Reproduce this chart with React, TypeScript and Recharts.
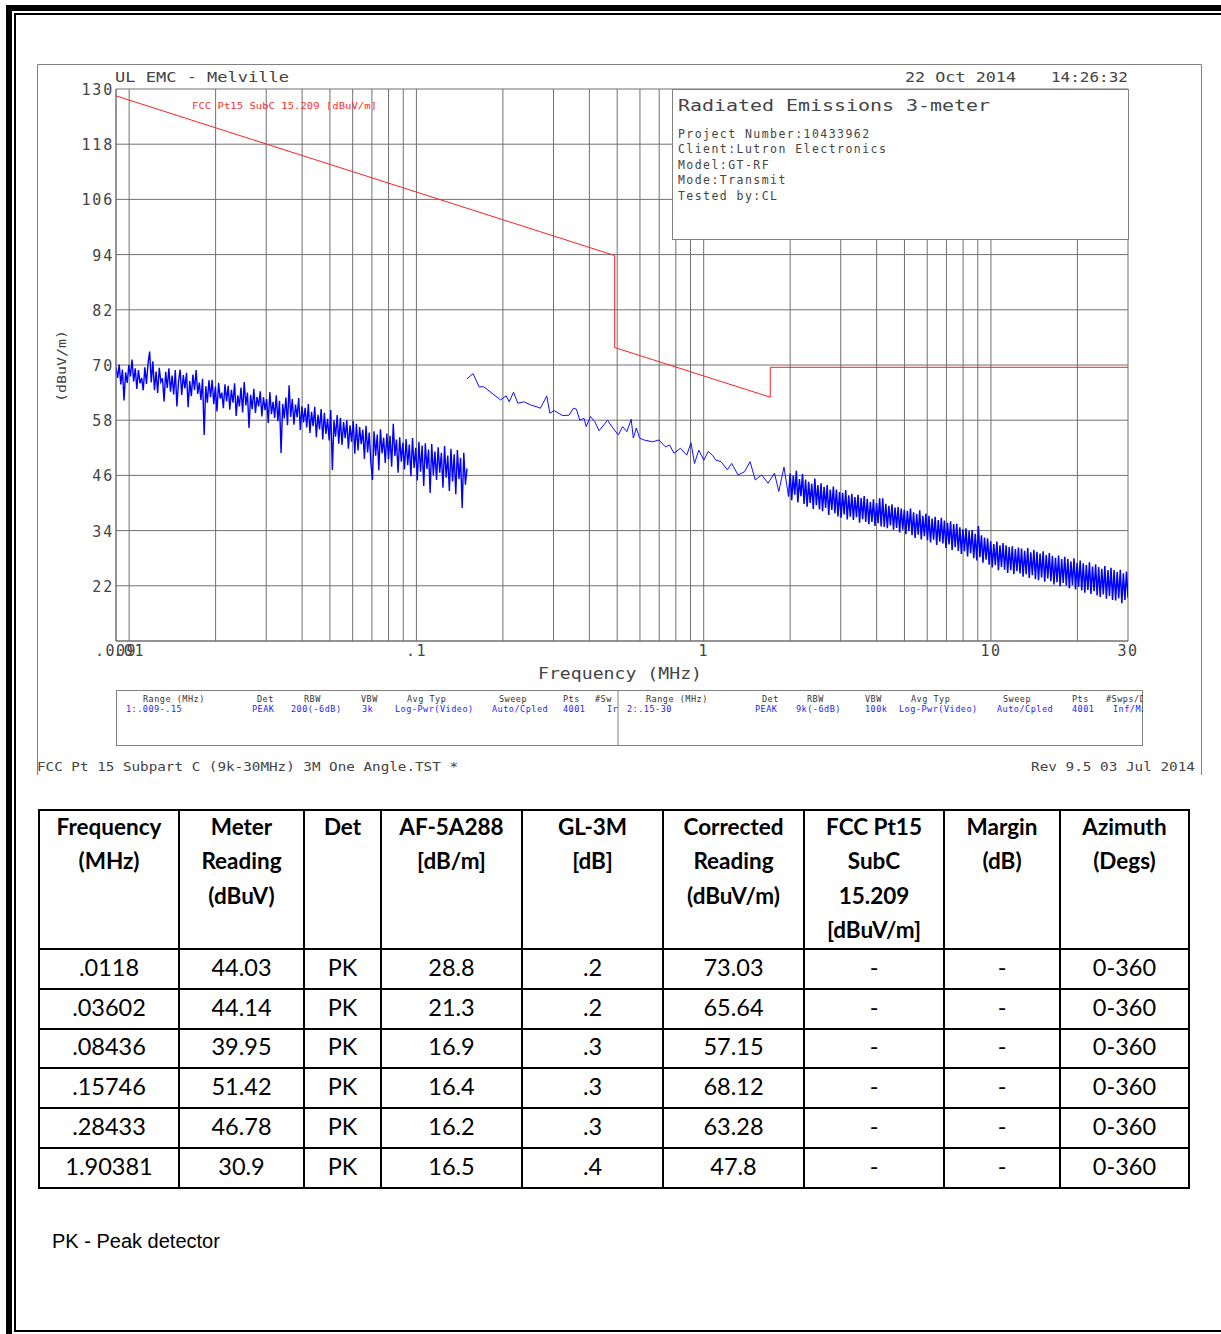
import React from 'react';
import { ComposedChart, Line, XAxis, YAxis, CartesianGrid } from 'recharts';

// ---------- chart data ----------
const xGridFreqs = [0.009, 0.01, 0.02, 0.03, 0.04, 0.05, 0.06, 0.07, 0.08, 0.09, 0.1, 0.2, 0.3, 0.4, 0.5, 0.6, 0.7, 0.8, 0.9, 1, 2, 3, 4, 5, 6, 7, 8, 9, 10, 20, 30];
const xLabelFreqs = [0.009, 0.01, 0.1, 1, 10, 30];
const xLabelTexts = ['.009', '.01', '.1', '1', '10', '30'];
const yTicks = [10, 22, 34, 46, 58, 70, 82, 94, 106, 118, 130];
const yLabelTexts = ['', '22', '34', '46', '58', '70', '82', '94', '106', '118', '130'];

// FCC Pt15 SubC 15.209 limit [dBuV/m]
const limitFreqs = [0.009, 0.49, 0.49, 1.705, 1.705, 30];
const limitValues = [128.5, 93.8, 73.8, 63.0, 69.5, 69.5];

// Range 1: .009 - .15 MHz (sampled log-evenly across the range)
const range1Start = 0.009;
const range1Stop = 0.15;
const range1Values = [
  69.5, 67.2, 70.1, 65.8, 69.0, 62.3, 68.4, 66.1, 70.0, 67.5,
  71.2, 66.4, 69.3, 64.8, 68.9, 66.0, 67.2, 64.5, 69.5, 65.9,
  70.4, 72.9, 66.2, 70.8, 64.5, 68.6, 63.9, 69.4, 66.3, 67.1,
  62.1, 68.5, 65.0, 69.3, 64.2, 67.7, 63.6, 68.9, 61.0, 66.4,
  69.0, 63.5, 67.8, 64.9, 68.3, 60.8, 66.5, 63.2, 67.9, 64.6,
  68.9, 63.7, 66.2, 62.4, 67.0, 54.8, 65.4, 61.8, 66.7, 63.0,
  66.8, 61.5, 65.3, 59.9, 66.1, 62.7, 64.0, 60.6, 65.8, 62.1,
  65.5, 60.3, 64.6, 61.8, 66.0, 58.9, 63.4, 61.0, 65.1, 59.7,
  66.3, 61.2, 64.0, 56.3, 63.5, 60.4, 64.8, 59.6, 63.1, 61.0,
  64.3, 58.8, 63.0, 60.2, 62.6, 57.4, 64.1, 59.3, 62.0, 58.5,
  63.4, 57.8, 62.2, 50.9, 61.5, 58.4, 62.9, 56.9, 65.6, 58.7,
  62.6, 57.0, 61.4, 58.6, 62.8, 55.9, 61.0, 57.5, 60.7, 56.4,
  61.5, 55.2, 59.8, 56.7, 60.9, 54.3, 59.2, 56.0, 60.4, 53.8,
  59.6, 55.0, 58.3, 53.6, 60.2, 47.2, 58.0, 54.4, 59.1, 52.9,
  58.5, 52.6, 57.6, 54.1, 58.0, 51.8, 56.9, 53.3, 57.8, 50.7,
  57.2, 51.4, 56.5, 52.8, 55.9, 49.6, 56.8, 51.0, 55.3, 48.9,
  45.0, 55.6, 50.3, 54.9, 47.1, 56.0, 50.8, 54.2, 48.7, 55.1,
  49.5, 54.6, 47.9, 57.2, 50.2, 53.8, 46.6, 54.3, 49.0, 53.1,
  47.3, 53.9, 48.2, 52.7, 45.8, 54.1, 47.6, 52.0, 44.9, 53.3,
  46.8, 52.5, 43.7, 53.0, 47.4, 51.6, 42.2, 52.8, 46.1, 51.2,
  45.0, 52.1, 46.6, 50.9, 43.3, 52.4, 45.5, 50.3, 42.6, 51.8,
  44.7, 50.6, 41.9, 51.5, 45.2, 49.8, 38.9, 50.9, 44.0, 47.5,
];

// Range 2 (low part): .15 - ~2 MHz, read point by point
const range2aFreqs = [0.15, 0.15746, 0.1655, 0.1713, 0.1964, 0.2054, 0.2104, 0.2178, 0.2254, 0.2372, 0.2497, 0.263, 0.2702, 0.28433, 0.2915, 0.3014, 0.3229, 0.34, 0.352, 0.3605, 0.3704, 0.3835, 0.3899, 0.4036, 0.4178, 0.4324, 0.4628, 0.4791, 0.5044, 0.5222, 0.5403, 0.5594, 0.5689, 0.5827, 0.5987, 0.6197, 0.6639, 0.699, 0.7357, 0.7614, 0.788, 0.8296, 0.8733, 0.9032, 0.929, 0.9614, 1.0016, 1.0368, 1.073, 1.1027, 1.1487, 1.209, 1.2514, 1.3173, 1.3878, 1.4505, 1.5118, 1.5917, 1.6755, 1.764, 1.8259, 1.90381, 1.9748];
const range2aValues = [67.0, 68.12, 65.2, 65.3, 62.4, 63.3, 62.0, 64.1, 61.7, 62.0, 61.3, 60.9, 60.6, 63.28, 59.5, 60.1, 59.0, 59.1, 60.6, 60.4, 58.0, 58.4, 56.6, 58.8, 57.7, 55.7, 58.0, 56.6, 54.8, 56.6, 55.5, 58.2, 54.1, 56.3, 54.1, 53.7, 53.3, 53.7, 52.2, 52.6, 50.8, 51.9, 50.4, 53.1, 48.6, 51.5, 49.3, 51.2, 50.4, 49.3, 49.0, 47.2, 48.6, 46.1, 46.8, 49.0, 45.0, 46.1, 44.3, 46.5, 42.5, 47.8, 41.4];

// Range 2 (high part): 2 - 30 MHz (sampled log-evenly across the range)
const range2bStart = 2.0;
const range2bStop = 30;
const range2bValues = [
  46.4, 40.6, 45.9, 41.8, 47.0, 40.1, 45.2, 41.5, 46.3, 39.8,
  45.1, 39.2, 44.6, 40.0, 44.2, 38.7, 45.3, 39.5, 43.9, 38.6,
  44.3, 38.2, 43.5, 38.9, 43.9, 37.4, 42.9, 38.5, 43.6, 37.8,
  42.9, 37.1, 42.4, 36.8, 42.2, 37.5, 42.8, 36.4, 41.7, 37.0,
  42.0, 36.3, 41.3, 36.9, 41.8, 35.7, 41.1, 36.5, 41.5, 35.9,
  40.9, 35.4, 40.2, 35.9, 40.8, 35.0, 40.0, 35.6, 41.0, 34.9,
  41.0, 34.8, 39.8, 34.5, 39.4, 35.1, 39.7, 34.2, 39.0, 34.6,
  39.1, 33.6, 38.8, 34.2, 38.5, 33.2, 38.3, 33.9, 38.8, 33.0,
  38.0, 32.4, 37.6, 33.1, 38.4, 32.1, 37.2, 32.8, 37.7, 31.9,
  37.2, 31.4, 36.6, 32.0, 37.0, 30.9, 36.3, 31.6, 36.8, 31.2,
  36.2, 30.2, 35.7, 31.0, 36.0, 29.8, 35.4, 30.4, 35.5, 29.6,
  34.7, 28.9, 34.3, 29.5, 34.5, 28.4, 33.9, 29.1, 34.1, 28.0,
  33.3, 27.5, 35.0, 28.2, 33.0, 27.0, 32.5, 27.7, 32.3, 26.6,
  31.7, 26.0, 31.1, 26.5, 31.6, 25.4, 30.8, 26.1, 31.3, 25.5,
  30.8, 24.8, 30.4, 25.4, 30.6, 24.5, 30.0, 25.2, 30.3, 24.7,
  30.1, 24.0, 29.6, 24.5, 30.2, 23.7, 29.3, 24.3, 29.8, 23.5,
  29.4, 23.2, 29.0, 23.8, 29.5, 22.9, 28.7, 23.6, 29.1, 23.0,
  28.5, 22.3, 28.1, 22.8, 28.6, 21.9, 27.8, 22.6, 28.3, 22.1,
  27.8, 21.5, 27.3, 22.2, 28.0, 21.2, 27.0, 21.8, 27.5, 21.0,
  26.9, 20.5, 26.5, 21.1, 27.1, 20.2, 26.2, 20.8, 26.7, 19.9,
  26.1, 19.6, 25.7, 20.1, 26.3, 19.2, 25.4, 19.8, 25.9, 18.9,
  25.4, 18.8, 25.0, 19.3, 25.5, 18.2, 24.7, 18.9, 25.1, 19.4,
];

// ---------- text data ----------
const infoLines = ['Project Number:10433962', 'Client:Lutron Electronics', 'Model:GT-RF', 'Mode:Transmit', 'Tested by:CL'];
const legendHeaders1 = ['Range (MHz)', 'Det', 'RBW', 'VBW', 'Avg Typ', 'Sweep', 'Pts', '#Sw'];
const legendValues1 = ['1:.009-.15', 'PEAK', '200(-6dB)', '3k', 'Log-Pwr(Video)', 'Auto/Cpled', '4001', 'Ir'];
const legendHeaders2 = ['Range (MHz)', 'Det', 'RBW', 'VBW', 'Avg Typ', 'Sweep', 'Pts', '#Swps/Det'];
const legendValues2 = ['2:.15-30', 'PEAK', '9k(-6dB)', '100k', 'Log-Pwr(Video)', 'Auto/Cpled', '4001', 'Inf/Max'];

const tableHeaders = [
  ['Frequency', '(MHz)'],
  ['Meter', 'Reading', '(dBuV)'],
  ['Det'],
  ['AF-5A288', '[dB/m]'],
  ['GL-3M', '[dB]'],
  ['Corrected', 'Reading', '(dBuV/m)'],
  ['FCC Pt15', 'SubC', '15.209', '[dBuV/m]'],
  ['Margin', '(dB)'],
  ['Azimuth', '(Degs)'],
];
const colFreq = ['.0118', '.03602', '.08436', '.15746', '.28433', '1.90381'];
const colMeter = ['44.03', '44.14', '39.95', '51.42', '46.78', '30.9'];
const colDet = ['PK', 'PK', 'PK', 'PK', 'PK', 'PK'];
const colAF = ['28.8', '21.3', '16.9', '16.4', '16.2', '16.5'];
const colGL = ['.2', '.2', '.3', '.3', '.3', '.4'];
const colCorrected = ['73.03', '65.64', '57.15', '68.12', '63.28', '47.8'];
const colLimit = ['-', '-', '-', '-', '-', '-'];
const colMargin = ['-', '-', '-', '-', '-', '-'];
const colAzimuth = ['0-360', '0-360', '0-360', '0-360', '0-360', '0-360'];

// ---------- build series ----------
const logSpread = (start: number, stop: number, values: number[]) =>
  values.map((v, i) => ({ f: start * Math.pow(stop / start, i / (values.length - 1)), v }));

const limitData = limitFreqs.map((f, i) => ({ f, v: limitValues[i] }));
const range1Data = logSpread(range1Start, range1Stop, range1Values);
const range2aData = range2aFreqs.map((f, i) => ({ f, v: range2aValues[i] })).filter((d) => d.v !== undefined);
const range2bData = [range2aData[range2aData.length - 1], ...logSpread(range2bStart, range2bStop, range2bValues)];

const MONO = '"DejaVu Sans Mono", monospace';
const GRID = '#707070';
const TXT = '#444';

const XTick = (p: any) => {
  const idx = xLabelFreqs.indexOf(p.payload.value);
  if (idx < 0) return <g />;
  return (
    <text x={p.x} y={p.y + 15} textAnchor="middle" fontFamily={MONO} fontSize={15} letterSpacing={1.5} fill={TXT}>
      {xLabelTexts[idx]}
    </text>
  );
};

const YTick = (p: any) => {
  const idx = yTicks.indexOf(p.payload.value);
  const label = idx >= 0 ? yLabelTexts[idx] : '';
  if (!label) return <g />;
  return (
    <text x={p.x + 1} y={p.y + 6} textAnchor="end" fontFamily={MONO} fontSize={15} letterSpacing={1.8} fill={TXT}>
      {label}
    </text>
  );
};

const legendX1h = [143, 257, 304, 361, 407, 499, 563, 595];
const legendX1v = [126, 252, 291, 362, 395, 492, 563, 607];
const legendX2h = [646, 762, 807, 865, 911, 1003, 1072, 1106];
const legendX2v = [627, 755, 796, 865, 899, 997, 1072, 1113];

const Overlay = () => (
  <svg width={1221} height={800} style={{ position: 'absolute', left: 0, top: 0 }}>
    <defs>
      <clipPath id="legL"><rect x={116} y={690} width={502} height={56} /></clipPath>
      <clipPath id="legR"><rect x={618} y={690} width={525} height={56} /></clipPath>
    </defs>
    {/* frame */}
    <path d="M37.5,775 L37.5,64.5 L1201.5,64.5 L1201.5,775" fill="none" stroke="#808080" strokeWidth={1} />
    {/* header texts */}
    <text x={115} y={82} fontFamily={MONO} fontSize={14.5} textLength={174} lengthAdjust="spacingAndGlyphs" fill={TXT}>UL EMC - Melville</text>
    <text x={905} y={82} fontFamily={MONO} fontSize={14.5} textLength={111} lengthAdjust="spacingAndGlyphs" fill={TXT}>22 Oct 2014</text>
    <text x={1051} y={82} fontFamily={MONO} fontSize={14.5} textLength={77} lengthAdjust="spacingAndGlyphs" fill={TXT}>14:26:32</text>
    {/* info box */}
    <rect x={672.5} y={89.5} width={456} height={150} fill="#fff" stroke="#808080" strokeWidth={1} />
    <text x={678} y={111} fontFamily={MONO} fontSize={15} textLength={312} lengthAdjust="spacingAndGlyphs" fill={TXT}>Radiated Emissions 3-meter</text>
    {infoLines.map((t, i) => (
      <text key={t} x={678} y={137.5 + i * 15.6} fontFamily={MONO} fontSize={11.5} letterSpacing={1.45} fill={TXT}>{t}</text>
    ))}
    {/* limit label */}
    <text x={192} y={108.5} fontFamily={MONO} fontSize={9.5} textLength={185} lengthAdjust="spacingAndGlyphs" fill="#ff3030">FCC Pt15 SubC 15.209 [dBuV/m]</text>
    {/* axis titles */}
    <text x={538} y={679} fontFamily={MONO} fontSize={15} textLength={164} lengthAdjust="spacingAndGlyphs" fill={TXT}>Frequency (MHz)</text>
    <text x={66} y={366} transform="rotate(-90 66 366)" textAnchor="middle" fontFamily={MONO} fontSize={12} textLength={72} lengthAdjust="spacingAndGlyphs" fill={TXT}>(dBuV/m)</text>
    {/* legend box */}
    <rect x={116.5} y={690.5} width={1026} height={55} fill="none" stroke="#808080" strokeWidth={1} />
    <line x1={618} y1={690.5} x2={618} y2={745.5} stroke="#808080" strokeWidth={1} />
    <g clipPath="url(#legL)" fontFamily={MONO} fontSize={8.5} letterSpacing={0.5}>
      {legendHeaders1.map((t, i) => <text key={'h1' + i} x={legendX1h[i]} y={702} fill="#333">{t}</text>)}
      {legendValues1.map((t, i) => <text key={'v1' + i} x={legendX1v[i]} y={712} fill="#2222ff">{t}</text>)}
    </g>
    <g clipPath="url(#legR)" fontFamily={MONO} fontSize={8.5} letterSpacing={0.5}>
      {legendHeaders2.map((t, i) => <text key={'h2' + i} x={legendX2h[i]} y={702} fill="#333">{t}</text>)}
      {legendValues2.map((t, i) => <text key={'v2' + i} x={legendX2v[i]} y={712} fill="#2222ff">{t}</text>)}
    </g>
    {/* footer */}
    <text x={37} y={771} fontFamily={MONO} fontSize={12.5} textLength={421} lengthAdjust="spacingAndGlyphs" fill={TXT}>FCC Pt 15 Subpart C (9k-30MHz) 3M One Angle.TST *</text>
    <text x={1031} y={771} fontFamily={MONO} fontSize={12.5} textLength={164} lengthAdjust="spacingAndGlyphs" fill={TXT}>Rev 9.5 03 Jul 2014</text>
  </svg>
);

const colWidths = [140, 125, 77, 141, 141, 141, 140, 116, 129];
const tableCols = [colFreq, colMeter, colDet, colAF, colGL, colCorrected, colLimit, colMargin, colAzimuth];

const cellBorder = '2px solid #000';

const DataTable = () => (
  <table
    style={{
      position: 'absolute', left: 38, top: 809, width: 1151, borderCollapse: 'collapse', tableLayout: 'fixed',
      fontFamily: 'Lato, "Open Sans", sans-serif', color: '#000',
    }}
  >
    <colgroup>
      {colWidths.map((w, i) => <col key={i} style={{ width: w }} />)}
    </colgroup>
    <tbody>
      <tr style={{ height: 139 }}>
        {tableHeaders.map((lines, i) => (
          <td key={i} style={{ border: cellBorder, verticalAlign: 'top', textAlign: 'center', fontWeight: 700, fontSize: 22.5, lineHeight: '34.4px', padding: 0 }}>
            <div style={{ marginTop: -1 }}>
              {lines.map((l, j) => <div key={j}>{l}</div>)}
            </div>
          </td>
        ))}
      </tr>
      {colFreq.map((_, r) => (
        <tr key={r} style={{ height: 39.8 }}>
          {tableCols.map((col, c) => (
            <td key={c} style={{ border: cellBorder, textAlign: 'center', verticalAlign: 'middle', fontSize: 23.5, padding: 0, lineHeight: '34px' }}>
              <div style={{ marginTop: -4 }}>{col[r]}</div>
            </td>
          ))}
        </tr>
      ))}
    </tbody>
  </table>
);

export default function App() {
  return (
    <div style={{ position: 'absolute', left: 0, top: 0, width: 1221, height: 1334, background: '#fff', overflow: 'hidden' }}>
      {/* page borders */}
      <div style={{ position: 'absolute', left: 6, top: 5, width: 1215, height: 6, background: '#000' }} />
      <div style={{ position: 'absolute', left: 6, top: 5, width: 6, height: 1329, background: '#000' }} />
      <div style={{ position: 'absolute', left: 14, top: 13, width: 1207, height: 2, background: '#000' }} />
      <div style={{ position: 'absolute', left: 14, top: 13, width: 2, height: 1318, background: '#000' }} />
      <div style={{ position: 'absolute', left: 14, top: 1330, width: 1207, height: 2, background: '#000' }} />

      <div style={{ position: 'absolute', left: 0, top: 0 }}>
        <ComposedChart width={1221} height={700} margin={{ top: 89, right: 93, bottom: 19, left: 56 }}>
          <CartesianGrid stroke={GRID} strokeWidth={1} />
          <XAxis
            dataKey="f" type="number" scale="log" domain={[0.009, 30]} allowDataOverflow
            ticks={xGridFreqs} interval={0} tick={XTick} tickLine={false} tickSize={0} tickMargin={0}
            axisLine={{ stroke: GRID }} height={40}
          />
          <YAxis
            type="number" domain={[10, 130]} allowDataOverflow ticks={yTicks} interval={0}
            tick={YTick} tickLine={false} tickSize={0} tickMargin={3} axisLine={{ stroke: GRID }} width={60}
          />
          <Line data={limitData} dataKey="v" type="linear" stroke="#ff2020" strokeWidth={1} dot={false} isAnimationActive={false} />
          <Line data={range1Data} dataKey="v" type="linear" stroke="#0000ff" strokeWidth={1.4} dot={false} isAnimationActive={false} />
          <Line data={range2aData} dataKey="v" type="linear" stroke="#1010ff" strokeWidth={1} dot={false} isAnimationActive={false} />
          <Line data={range2bData} dataKey="v" type="linear" stroke="#0000ff" strokeWidth={1.5} dot={false} isAnimationActive={false} />
        </ComposedChart>
      </div>

      <Overlay />
      <DataTable />

      <div style={{ position: 'absolute', left: 52, top: 1230, fontFamily: '"Liberation Sans", Arial, sans-serif', fontSize: 20, color: '#000' }}>
        PK - Peak detector
      </div>
    </div>
  );
}
